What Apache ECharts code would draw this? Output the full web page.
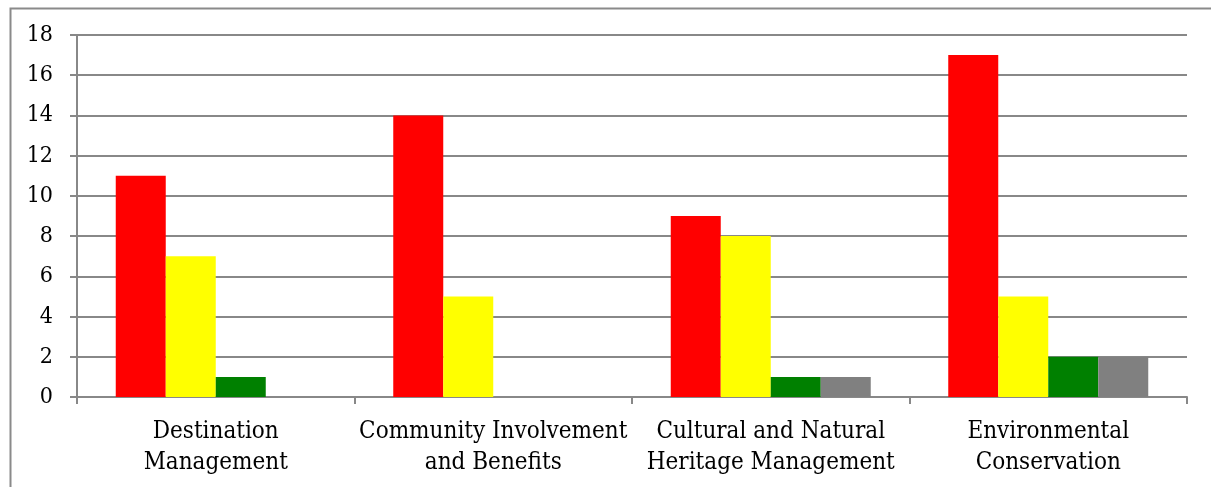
<!DOCTYPE html>
<html>
<head>
<meta charset="utf-8">
<script src="https://cdn.jsdelivr.net/npm/echarts@6/dist/echarts.min.js"></script>
<style>
  html, body { margin: 0; padding: 0; background: #fff; }
  #chart { width: 1211px; height: 487px; }
</style>
</head>
<body>
<div id="chart"></div>
<script>
const categories = [
    "Destination\nManagement",
    "Community Involvement\nand Benefits",
    "Cultural and Natural\nHeritage Management",
    "Environmental\nConservation"
];
const redValues = [11, 14, 9, 17];
const yellowValues = [7, 5, 8, 5];
const greenValues = [1, "-", 1, 2];
const greyValues = ["-", "-", 1, 2];
const yTicks = { min: 0, max: 18, interval: 2 };

const lineColor = "#888888";
const fontFamily = "'DejaVu Serif Condensed', 'Liberation Serif', serif";

const chart = echarts.init(document.getElementById("chart"));

const makeSeries = (name, data, color) => ({
    name: name,
    type: "bar",
    data: data,
    barWidth: 50,
    barGap: 0,
    itemStyle: { color: color },
    animation: false
});

const option = {
    animation: false,
    graphic: [{
        type: "rect",
        left: 8,
        top: 6,
        shape: { width: 1230, height: 520 },
        style: { fill: "none", stroke: "#8a8a8a", lineWidth: 2 },
        silent: true
    }],
    grid: { left: 77, right: 24, top: 35, bottom: 90 },
    xAxis: {
        type: "category",
        data: categories,
        boundaryGap: true,
        axisLine: { lineStyle: { color: lineColor, width: 2 } },
        axisTick: { show: true, length: 7, lineStyle: { color: lineColor, width: 2 } },
        axisLabel: {
            color: "#000",
            fontFamily: fontFamily,
            fontSize: 24,
            lineHeight: 31,
            margin: 19,
            interval: 0
        }
    },
    yAxis: {
        type: "value",
        min: yTicks.min,
        max: yTicks.max,
        interval: yTicks.interval,
        axisLine: { show: true, lineStyle: { color: lineColor, width: 2 } },
        axisTick: { show: true, length: 7, lineStyle: { color: lineColor, width: 2 } },
        splitLine: { lineStyle: { color: lineColor, width: 2 } },
        axisLabel: {
            color: "#000",
            fontFamily: fontFamily,
            fontSize: 23,
            margin: 24
        }
    },
    series: [
        makeSeries("Red", redValues, "#ff0000"),
        makeSeries("Yellow", yellowValues, "#ffff00"),
        makeSeries("Green", greenValues, "#008000"),
        makeSeries("Grey", greyValues, "#808080")
    ]
};

chart.setOption(option);
window.addEventListener("resize", () => chart.resize());
</script>
</body>
</html>
